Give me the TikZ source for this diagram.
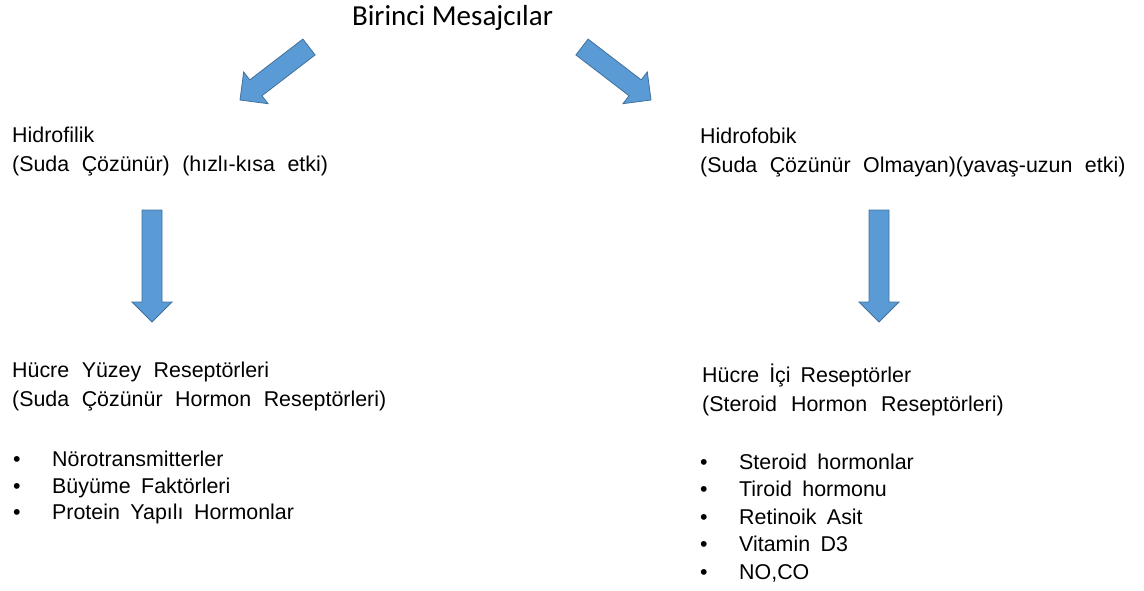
\documentclass[tikz,border=0pt]{standalone}
\usepackage{fontspec}
\setmainfont{Liberation Sans}
\newfontfamily\baslikfont{Carlito}
\usetikzlibrary{calc}
\definecolor{okmavi}{HTML}{5B9BD5}
\definecolor{okkenar}{HTML}{41719C}
\newcommand{\bosluk}[1]{\spaceskip #1\relax}
\tikzset{
	metin/.style={anchor=base west, inner sep=0pt, align=left, font=\fontsize{21.4}{29}\selectfont\bosluk{12.5pt}},
	madde/.style={anchor=base west, inner sep=0pt, font=\fontsize{21.4}{27}\selectfont\bosluk{10.5pt}},
	blok ok/.style={fill=okmavi, draw=okkenar, line width=0.8pt, line join=miter}
}
\begin{document}
\begin{tikzpicture}[x=1pt,y=-1pt]
	\useasboundingbox (0,0) rectangle (1144,590);
	\node[font=\baslikfont\fontsize{29}{35}\selectfont, anchor=base, inner sep=0pt] (baslik) at (452.5,25) {Birinci Mesajcılar};
	% basliklar (base = ikinci satir)
	\node[metin] (hidrofilik) at (12,171) {Hidrofilik\\(Suda Çözünür) (hızlı-kısa etki)};
	\node[metin] (hidrofobik) at (700,172) {Hidrofobik\\(Suda Çözünür Olmayan)(yavaş-uzun etki)};
	\node[metin] (yuzey) at (12,406) {Hücre Yüzey Reseptörleri\\(Suda Çözünür Hormon Reseptörleri)};
	\node[metin, font=\fontsize{21.4}{29}\selectfont\bosluk{10pt}] (hucreici) at (702,411) {Hücre İçi Reseptörler\\(Steroid\hspace{4pt} Hormon\hspace{4pt} Reseptörleri)};
	% maddeler
	\foreach \t [count=\i] in {Nörotransmitterler, Büyüme Faktörleri, Protein Yapılı Hormonlar}{
		\node[madde] (solb\i) at (13,{466.5+26.7*(\i-1)}) {•};
		\node[madde] (sol\i) at (52,{466.5+26.7*(\i-1)}) {\t};
	}
	\foreach \t [count=\i] in {Steroid hormonlar, Tiroid hormonu, Retinoik Asit, Vitamin D3, {NO,CO}}{
		\node[madde] (sagb\i) at (700,{469+27.5*(\i-1)}) {•};
		\node[madde] (sag\i) at (739,{469+27.5*(\i-1)}) {\t};
	}
	% oklar
	\path (309,47) coordinate (solk) (240,100) coordinate (solu)
	(582,47) coordinate (sagk) (651,100) coordinate (sagu)
	(152,210) coordinate (asolk) (152,322) coordinate (asolu)
	(879,210) coordinate (asagk) (879,322) coordinate (asagu);
	\foreach \a/\b in {solk/solu, sagk/sagu, asolk/asolu, asagk/asagu}{
		\coordinate (boyun) at ($(\b)!20pt!(\a)$);
		\draw[blok ok] ($(\a)!10pt!90:(\b)$) -- ($(boyun)!10pt!90:(\b)$) -- ($(boyun)!20pt!90:(\b)$) -- (\b)
		-- ($(boyun)!20pt!-90:(\b)$) -- ($(boyun)!10pt!-90:(\b)$) -- ($(\a)!10pt!-90:(\b)$) -- cycle;
	}
\end{tikzpicture}
\end{document}
